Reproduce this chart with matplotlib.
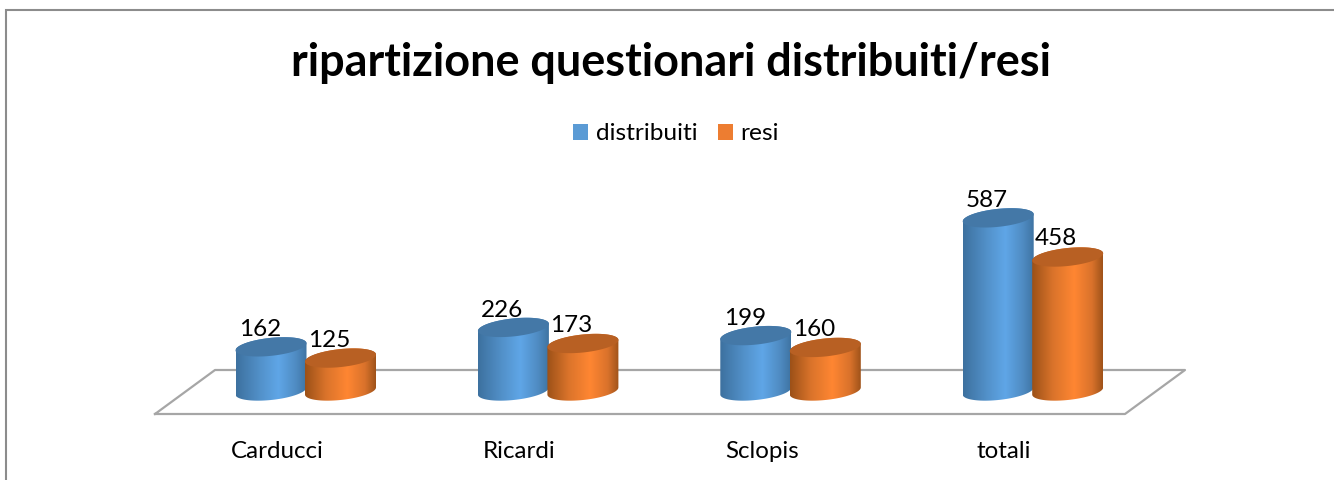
# -*- coding: utf-8 -*-
import numpy as np
import matplotlib
matplotlib.use("Agg")
import matplotlib.pyplot as plt
from matplotlib.colors import LinearSegmentedColormap
from matplotlib.patches import Patch, PathPatch, Rectangle
from matplotlib.path import Path

plt.rcParams['font.family'] = ['Lato', 'DejaVu Sans']

title = "ripartizione questionari distribuiti/resi"
categories = ["Carducci", "Ricardi", "Sclopis", "totali"]
series_names = ["distribuiti", "resi"]
distribuiti = [162, 226, 199, 587]
resi = [125, 173, 160, 458]

W, H = 1334, 480
fig = plt.figure(figsize=(W / 100, H / 100), dpi=100)

# axes: category 0 sits at px 306, one category = 242.4 px, value 0 at px y=396
X0, DX = 306.0, 242.4
Y0, SY = 396.0, 0.3035
ax = fig.add_axes([0, 0, 1, 1])
ax.set_xlim((0 - X0) / DX, (W - X0) / DX)
ax.set_ylim((Y0 - H) / SY, Y0 / SY)
ax.axis('off')

ux = 1 / DX    # one pixel in x data units
uy = 1 / SY    # one pixel in y data units


def ellipse_pts(cx, cy, a, b, k, t):
    # tilted ellipse, sizes in px, centre in data units
    px = a * np.cos(t)
    py = b * np.sin(t) + k * px
    return np.c_[cx + px * ux, cy + py * uy]


def cylinder(cx, val, cmap, top_col):
    a, b, k = 35.5, 9.0, 0.1
    base = 5 * uy
    t_low = np.linspace(np.pi, 2 * np.pi, 60)
    t_up = np.linspace(0, np.pi, 60)
    # body outline: lower half of the base, then upper half of the top
    pts = np.r_[ellipse_pts(cx, base, a, b, k, t_low), ellipse_pts(cx, val, a, b, k, t_up)]
    body = PathPatch(Path(np.r_[pts, pts[:1]]), fc='none', ec='none', zorder=3)
    ax.add_patch(body)
    grad = np.linspace(0, 1, 128).reshape(1, -1)
    im = ax.imshow(grad, cmap=cmap, aspect='auto', zorder=3, interpolation='bilinear',
                   extent=[cx - a * ux, cx + a * ux, -60, val + 40])
    im.set_clip_path(body)
    cap = ellipse_pts(cx, val, a, b, k, np.linspace(0, 2 * np.pi, 120))
    ax.add_patch(PathPatch(Path(cap), fc=top_col, ec='none', zorder=3))


blue_map = LinearSegmentedColormap.from_list(
    'b', [(0, '#3D719F'), (0.35, '#5392CB'), (0.6, '#5FA6E7'), (0.85, '#4F8BC2'), (1, '#3F74A3')])
orange_map = LinearSegmentedColormap.from_list(
    'o', [(0, '#9C5118'), (0.3, '#DB742B'), (0.6, '#FF8632'), (0.85, '#D9722B'), (1, '#A0531A')])

# floor of the 3d plot
fx = [(155 - X0) / DX, (1125 - X0) / DX, (1185 - X0) / DX, (215 - X0) / DX, (155 - X0) / DX]
fy = [(Y0 - 414) / SY, (Y0 - 414) / SY, (Y0 - 370) / SY, (Y0 - 370) / SY, (Y0 - 414) / SY]
ax.plot(fx, fy, color='#A6A6A6', lw=1.6, zorder=1)

for i in range(len(categories)):
    cylinder(i - 35 / DX, distribuiti[i], blue_map, '#4478A7')
    cylinder(i + 34.5 / DX, resi[i], orange_map, '#B86023')
    ax.text(i - 46 / DX, distribuiti[i] + 17 * uy, str(distribuiti[i]), ha='center', va='center',
            fontsize=17.5, color='black', zorder=5)
    ax.text(i + 23 / DX, resi[i] + 18 * uy, str(resi[i]), ha='center', va='center',
            fontsize=17.5, color='black', zorder=5)
    ax.text(i - 29 / DX, (Y0 - 452) / SY, categories[i], ha='center', va='center',
            fontsize=17.4, color='black')

# chart frame
fig.add_artist(Rectangle((5.5 / W, -0.02), (W + 20) / W, 1.02 - 9.5 / H, transform=fig.transFigure,
                         fc='none', ec='#8C8C8C', lw=1.5))

fig.text(671 / W, 1 - 63 / H, title, ha='center', va='center', fontsize=32.4, fontweight='bold', color='black')

handles = [Patch(fc='#5B9BD5', ec='none'), Patch(fc='#ED7D31', ec='none')]
fig.legend(handles, series_names, ncol=2, loc='center', bbox_to_anchor=(676 / W, 1 - 134 / H),
           frameon=False, fontsize=17.6, handlelength=0.62, handleheight=0.62,
           handletextpad=0.3, columnspacing=0.85)

fig.savefig("out.png", dpi=100)
